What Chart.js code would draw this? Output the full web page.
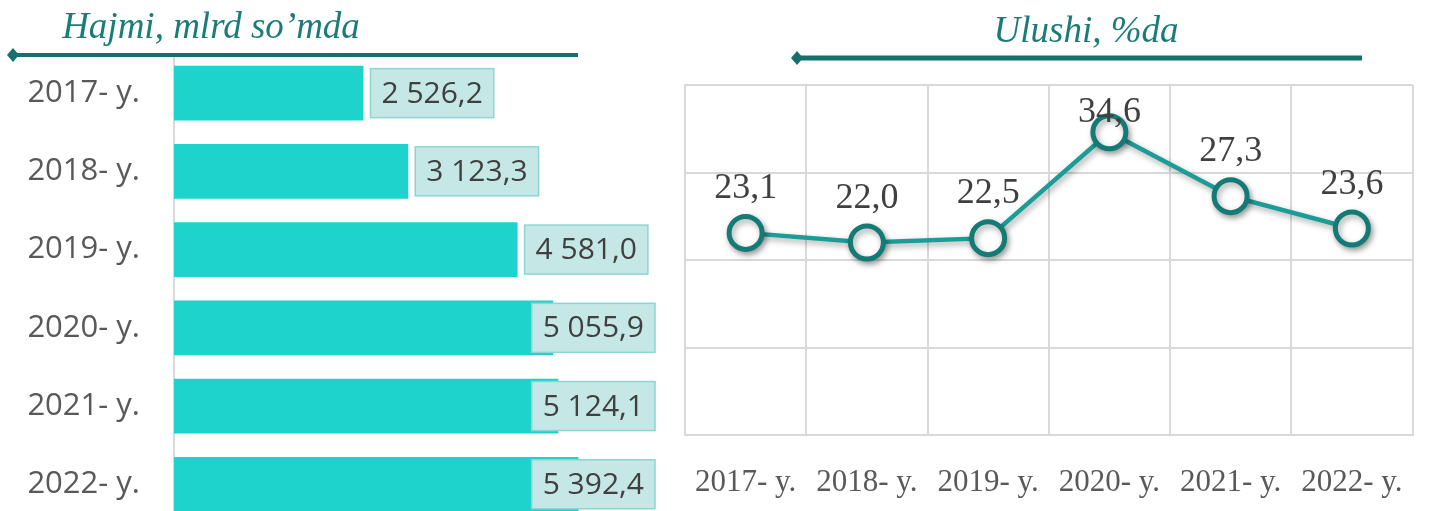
<!DOCTYPE html>
<html>
<head>
<meta charset="utf-8">
<script src="https://cdn.jsdelivr.net/npm/chart.js@4/dist/chart.umd.min.js"></script>
<style>
  html, body { margin: 0; padding: 0; background: #fff; overflow: hidden; }
  #wrap { position: relative; width: 1434px; height: 511px; overflow: hidden; }
  #volChart { position: absolute; left: 0; top: 0; }
  #shareChart { position: absolute; left: 660px; top: 0; }
</style>
</head>
<body>
<div id="wrap">
  <canvas id="volChart" width="660" height="576"></canvas>
  <canvas id="shareChart" width="774" height="511"></canvas>
</div>
<script>
// chart data
var years = ['2017- y.', '2018- y.', '2019- y.', '2020- y.', '2021- y.', '2022- y.'];
var volume = [2526.2, 3123.3, 4581.0, 5055.9, 5124.1, 5392.4];   // mlrd so'm
var share = [23.1, 22.0, 22.5, 34.6, 27.3, 23.6];                // %
var volumeAxis = [0, 6000];
var shareAxis = [0, 40, 10];

var teal = '#1b7b78';

function fmt(v) {
    var parts = v.toFixed(1).split('.');
    var intPart = parts[0].replace(/\B(?=(\d{3})+(?!\d))/g, ' ');
    return intPart + ',' + parts[1];
}

// title with the diamond-ended rule under it
function drawHeader(ctx, text, textX, textY, x1, x2, y, thick) {
    ctx.save();
    ctx.font = 'italic 37px "Liberation Serif"';
    ctx.fillStyle = teal;
    ctx.textBaseline = 'alphabetic';
    ctx.textAlign = 'center';
    ctx.fillText(text, textX, textY);
    ctx.fillStyle = '#15716e';
    ctx.fillRect(x1, y - thick / 2, x2 - x1, thick);
    ctx.beginPath();
    ctx.moveTo(x1 - 6, y);
    ctx.lineTo(x1, y - 7);
    ctx.lineTo(x1 + 6, y);
    ctx.lineTo(x1, y + 7);
    ctx.closePath();
    ctx.fill();
    ctx.restore();
}

var volDecor = {
    id: 'volDecor',
    afterDraw: function(chart) {
        var ctx = chart.ctx;
        drawHeader(ctx, 'Hajmi, mlrd so\u2019mda', 211, 38, 13, 578, 55, 4);
        // value boxes
        var meta = chart.getDatasetMeta(0);
        ctx.save();
        ctx.font = '30px "Open Sans"';
        ctx.textAlign = 'center';
        ctx.textBaseline = 'middle';
        meta.data.forEach(function(bar, i) {
            var txt = fmt(volume[i]);
            var w = ctx.measureText(txt).width + 22;
            var h = 49;
            var left = Math.min(bar.x + 7, 655 - w);
            ctx.fillStyle = '#c5e7e6';
            ctx.strokeStyle = '#8fd4d1';
            ctx.lineWidth = 1.5;
            ctx.fillRect(left, bar.y - h / 2, w, h);
            ctx.strokeRect(left, bar.y - h / 2, w, h);
            ctx.fillStyle = '#404040';
            ctx.fillText(txt, left + w / 2, bar.y + 1);
        });
        ctx.restore();
    }
};

new Chart(document.getElementById('volChart').getContext('2d'), {
    type: 'bar',
    data: {
        labels: years,
        datasets: [{
            data: volume,
            backgroundColor: '#1fd3cd',
            borderWidth: 0,
            categoryPercentage: 1,
            barPercentage: 0.7
        }]
    },
    options: {
        indexAxis: 'y',
        responsive: false,
        animation: false,
        layout: { padding: { top: 54, right: 36, bottom: 18, left: 0 } },
        plugins: { legend: { display: false }, tooltip: { enabled: false } },
        scales: {
            x: { display: false, min: volumeAxis[0], max: volumeAxis[1] },
            y: {
                afterFit: function(scale) { scale.width = 174; },
                grid: { display: false, drawTicks: false },
                border: { display: true, color: '#d9d9d9', width: 2 },
                ticks: { color: '#595959', font: { family: 'Open Sans', size: 31 }, padding: 34 }
            }
        }
    },
    plugins: [volDecor]
});

var shareDecor = {
    id: 'shareDecor',
    beforeDatasetsDraw: function(chart) {
        var ctx = chart.ctx;
        ctx.save();
        ctx.shadowColor = 'rgba(0,0,0,0.35)';
        ctx.shadowBlur = 6;
        ctx.shadowOffsetX = 2;
        ctx.shadowOffsetY = 3;
    },
    afterDatasetsDraw: function(chart) {
        var ctx = chart.ctx;
        ctx.restore();
        var meta = chart.getDatasetMeta(0);
        ctx.save();
        ctx.font = '36px "Liberation Serif"';
        ctx.fillStyle = '#404040';
        ctx.textAlign = 'center';
        ctx.textBaseline = 'alphabetic';
        meta.data.forEach(function(pt, i) {
            var y = Math.max(pt.y - 35, 122);
            ctx.fillText(share[i].toFixed(1).replace('.', ','), pt.x, y);
        });
        ctx.restore();
    },
    afterDraw: function(chart) {
        drawHeader(chart.ctx, 'Ulushi, %da', 426, 42, 137, 702, 58, 5);
    }
};

new Chart(document.getElementById('shareChart').getContext('2d'), {
    type: 'line',
    data: {
        labels: years,
        datasets: [{
            data: share,
            borderColor: '#1c9c97',
            borderWidth: 4.5,
            pointRadius: 16.5,
            pointBorderWidth: 5,
            pointBackgroundColor: '#ffffff',
            pointBorderColor: '#147a76',
            tension: 0
        }]
    },
    options: {
        responsive: false,
        animation: false,
        layout: { padding: { top: 85, right: 11, bottom: 0, left: 25 } },
        plugins: { legend: { display: false }, tooltip: { enabled: false } },
        scales: {
            x: {
                offset: true,
                afterFit: function(scale) { scale.height = 76; },
                grid: { offset: true, color: '#d9d9d9', lineWidth: 2, drawTicks: false },
                border: { color: '#d9d9d9', width: 2 },
                ticks: { color: '#595959', font: { family: 'Liberation Serif', size: 31 }, padding: 29, maxRotation: 0 }
            },
            y: {
                min: shareAxis[0],
                max: shareAxis[1],
                afterFit: function(scale) { scale.width = 0; },
                grid: { color: '#d9d9d9', lineWidth: 2, drawTicks: false },
                border: { color: '#d9d9d9', width: 2 },
                ticks: { display: false, stepSize: shareAxis[2] }
            }
        }
    },
    plugins: [shareDecor]
});
</script>
</body>
</html>
